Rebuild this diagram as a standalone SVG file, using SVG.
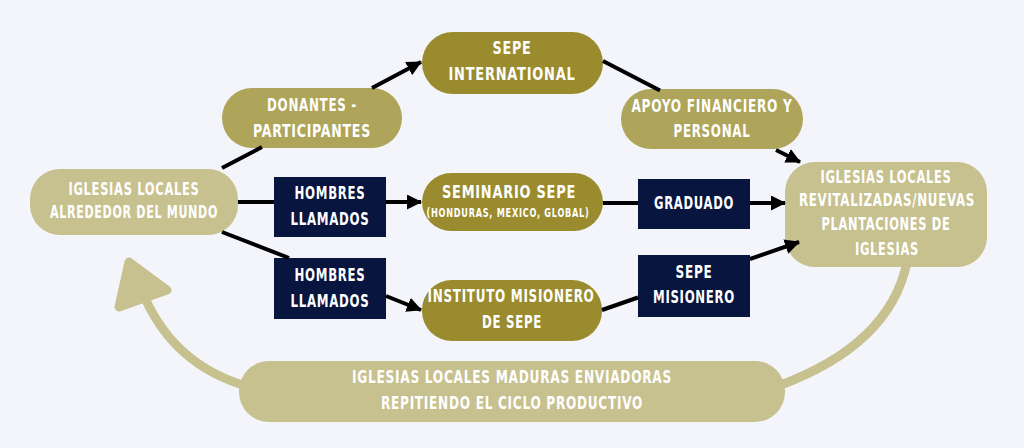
<svg xmlns="http://www.w3.org/2000/svg" width="1024" height="448" viewBox="0 0 1024 448">
<defs>
<marker id="ah" markerUnits="userSpaceOnUse" markerWidth="15" markerHeight="15" refX="14" refY="7.5" orient="auto">
<path d="M0,0 L15,7.5 L0,15 z" fill="#000"/>
</marker>
<style>
.light{fill:#c7c18f}
.mid{fill:#aea45a}
.dark{fill:#9a8c2e}
.navy{fill:#07153f}
.t{font-family:"DejaVu Sans Condensed","DejaVu Sans",sans-serif;font-stretch:condensed;font-weight:bold;font-size:18.5px;fill:#ffffff;text-anchor:middle;letter-spacing:1px}
.s{font-size:12px}
.c{fill:none;stroke:#000;stroke-width:4}
.loop{fill:none;stroke:#c7c18f;stroke-width:9}
</style>
</defs>
<rect width="1024" height="448" fill="#f4f5fa"/>
<g id="iglesias-mundo">
<rect class="light" x="30" y="169" width="208" height="66" rx="30"/>
<text class="t" x="134" y="195" textLength="131" lengthAdjust="spacingAndGlyphs">IGLESIAS LOCALES</text>
<text class="t" x="134" y="218" textLength="168" lengthAdjust="spacingAndGlyphs">ALREDEDOR DEL MUNDO</text>
</g>
<g id="donantes">
<rect class="mid" x="222" y="88" width="180" height="60" rx="30"/>
<text class="t" x="312" y="111" textLength="90" lengthAdjust="spacingAndGlyphs">DONANTES -</text>
<text class="t" x="312" y="137" textLength="118" lengthAdjust="spacingAndGlyphs">PARTICIPANTES</text>
</g>
<g id="sepe-international">
<rect class="dark" x="422" y="32" width="181" height="62" rx="31"/>
<text class="t" x="512" y="54" textLength="39" lengthAdjust="spacingAndGlyphs">SEPE</text>
<text class="t" x="512" y="80" textLength="127" lengthAdjust="spacingAndGlyphs">INTERNATIONAL</text>
</g>
<g id="apoyo">
<rect class="mid" x="621" y="89" width="182" height="60" rx="30"/>
<text class="t" x="712" y="112" textLength="161" lengthAdjust="spacingAndGlyphs">APOYO FINANCIERO Y</text>
<text class="t" x="712" y="137" textLength="77" lengthAdjust="spacingAndGlyphs">PERSONAL</text>
</g>
<g id="hombres-1">
<rect class="navy" x="274" y="177" width="112" height="60"/>
<text class="t" x="330" y="199" textLength="71" lengthAdjust="spacingAndGlyphs">HOMBRES</text>
<text class="t" x="330" y="225" textLength="79" lengthAdjust="spacingAndGlyphs">LLAMADOS</text>
</g>
<g id="seminario">
<rect class="dark" x="422" y="173" width="181" height="58" rx="29"/>
<text class="t" x="509" y="198" textLength="134" lengthAdjust="spacingAndGlyphs">SEMINARIO SEPE</text>
<text class="t s" x="508" y="217" textLength="163" lengthAdjust="spacingAndGlyphs">(HONDURAS, MEXICO, GLOBAL)</text>
</g>
<g id="graduado">
<rect class="navy" x="638" y="179" width="112" height="50"/>
<text class="t" x="694" y="209" textLength="80" lengthAdjust="spacingAndGlyphs">GRADUADO</text>
</g>
<g id="iglesias-revitalizadas">
<rect class="light" x="785" y="162" width="202" height="105" rx="30"/>
<text class="t" x="886" y="183" textLength="131" lengthAdjust="spacingAndGlyphs">IGLESIAS LOCALES</text>
<text class="t" x="887" y="206" textLength="176" lengthAdjust="spacingAndGlyphs">REVITALIZADAS/NUEVAS</text>
<text class="t" x="886" y="230" textLength="129" lengthAdjust="spacingAndGlyphs">PLANTACIONES DE</text>
<text class="t" x="887" y="255" textLength="64" lengthAdjust="spacingAndGlyphs">IGLESIAS</text>
</g>
<g id="hombres-2">
<rect class="navy" x="274" y="258" width="112" height="61"/>
<text class="t" x="330" y="281" textLength="71" lengthAdjust="spacingAndGlyphs">HOMBRES</text>
<text class="t" x="330" y="307" textLength="79" lengthAdjust="spacingAndGlyphs">LLAMADOS</text>
</g>
<g id="instituto">
<rect class="dark" x="422" y="280" width="180" height="61" rx="30"/>
<text class="t" x="511" y="302" textLength="167" lengthAdjust="spacingAndGlyphs">INSTITUTO MISIONERO</text>
<text class="t" x="512" y="328" textLength="60" lengthAdjust="spacingAndGlyphs">DE SEPE</text>
</g>
<g id="sepe-misionero">
<rect class="navy" x="638" y="255" width="112" height="62"/>
<text class="t" x="694" y="278" textLength="37" lengthAdjust="spacingAndGlyphs">SEPE</text>
<text class="t" x="694" y="303" textLength="82" lengthAdjust="spacingAndGlyphs">MISIONERO</text>
</g>
<g id="iglesias-maduras">
<rect class="light" x="239" y="361" width="546" height="61" rx="30"/>
<text class="t" x="512" y="383" textLength="320" lengthAdjust="spacingAndGlyphs">IGLESIAS LOCALES MADURAS ENVIADORAS</text>
<text class="t" x="512" y="409" textLength="262" lengthAdjust="spacingAndGlyphs">REPITIENDO EL CICLO PRODUCTIVO</text>
</g>
<g id="connectors">
<line class="c" x1="222" y1="168" x2="262" y2="147"/>
<line class="c" x1="372" y1="88" x2="421" y2="62" marker-end="url(#ah)"/>
<line class="c" x1="603" y1="61" x2="660" y2="90.5"/>
<line class="c" x1="776" y1="150" x2="800" y2="162" marker-end="url(#ah)"/>
<line class="c" x1="238" y1="202" x2="274" y2="202"/>
<line class="c" x1="386" y1="202" x2="421" y2="202" marker-end="url(#ah)"/>
<line class="c" x1="603" y1="203" x2="638" y2="203"/>
<line class="c" x1="750" y1="203" x2="785" y2="203" marker-end="url(#ah)"/>
<line class="c" x1="222" y1="232" x2="289" y2="258"/>
<line class="c" x1="386" y1="296" x2="421" y2="310" marker-end="url(#ah)"/>
<line class="c" x1="602" y1="310" x2="638" y2="297.5"/>
<line class="c" x1="750" y1="259" x2="799" y2="242" marker-end="url(#ah)"/>
<path class="loop" d="M778,386 Q890,345 907,262"/>
<path class="loop" d="M246,386 Q175,365 145,298"/>
<polygon points="129,262 167,290 119,307" fill="#c7c18f" stroke="#c7c18f" stroke-width="9" stroke-linejoin="round"/>
</g>
</svg>
